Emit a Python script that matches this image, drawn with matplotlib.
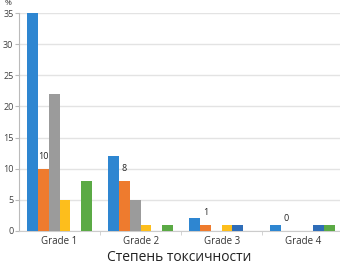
import numpy as np
import matplotlib.pyplot as plt
from matplotlib.ticker import FixedLocator

# values
categories = ['Grade 1', 'Grade 2', 'Grade 3', 'Grade 4']
series_a = [35, 12, 2, 1]    # blue
series_b = [10, 8, 1, 0]     # orange (labelled)
series_c = [22, 5, 0, 0]     # gray
series_d = [5, 1, 1, 0]      # yellow
series_e = [0, 0, 1, 1]      # dark blue
series_f = [8, 1, 0, 1]      # green
y_ticks = [0, 5, 10, 15, 20, 25, 30, 35]

colors = ['#2E86D1', '#EE7B2E', '#9B9B9B', '#FDBE1C', '#2F6DB8', '#5BAA45']
all_series = [series_a, series_b, series_c, series_d, series_e, series_f]

plt.rcParams['font.family'] = ['Open Sans', 'DejaVu Sans']

fig = plt.figure(figsize=(3.4, 2.66), dpi=100)
ax = fig.add_axes([0.056, 0.132, 0.944, 0.819])

x = np.arange(len(categories))
w = 0.133
for i, (vals, col) in enumerate(zip(all_series, colors)):
    ax.bar(x + (i - 2.5) * w, vals, width=w, color=col, zorder=3, linewidth=0)

# data labels for the orange series
for xi, v in zip(x, series_b):
    ax.text(xi - 1.5 * w, v + 1.3, str(v), ha='center', va='bottom',
            fontsize=6.5, color='#222222', zorder=4)

ax.set_ylim(0, 35)
ax.set_xlim(-0.5, 3.46)
ax.set_yticks(y_ticks)
ax.tick_params(axis='y', labelsize=6.5, length=3, color='#BBBBBB',
               labelcolor='#404040', pad=1)
ax.set_xticks(x)
ax.set_xticklabels(categories)
ax.tick_params(axis='x', which='major', length=0, labelsize=7,
               labelcolor='#333333', pad=4)
ax.xaxis.set_minor_locator(FixedLocator([0.5, 1.5, 2.5]))
ax.tick_params(axis='x', which='minor', length=3, color='#CCCCCC')

ax.grid(axis='y', color='#E3E3E3', linewidth=1, zorder=0)
for s in ['top', 'right']:
    ax.spines[s].set_visible(False)
ax.spines['left'].set_color('#BBBBBB')
ax.spines['bottom'].set_color('#CCCCCC')

ax.set_xlabel('Степень токсичности', fontsize=10, color='#222222', labelpad=2)
fig.text(0.015, 1.0, '%', fontsize=6, color='#333333', va='top')

fig.savefig('out.png', dpi=100)
